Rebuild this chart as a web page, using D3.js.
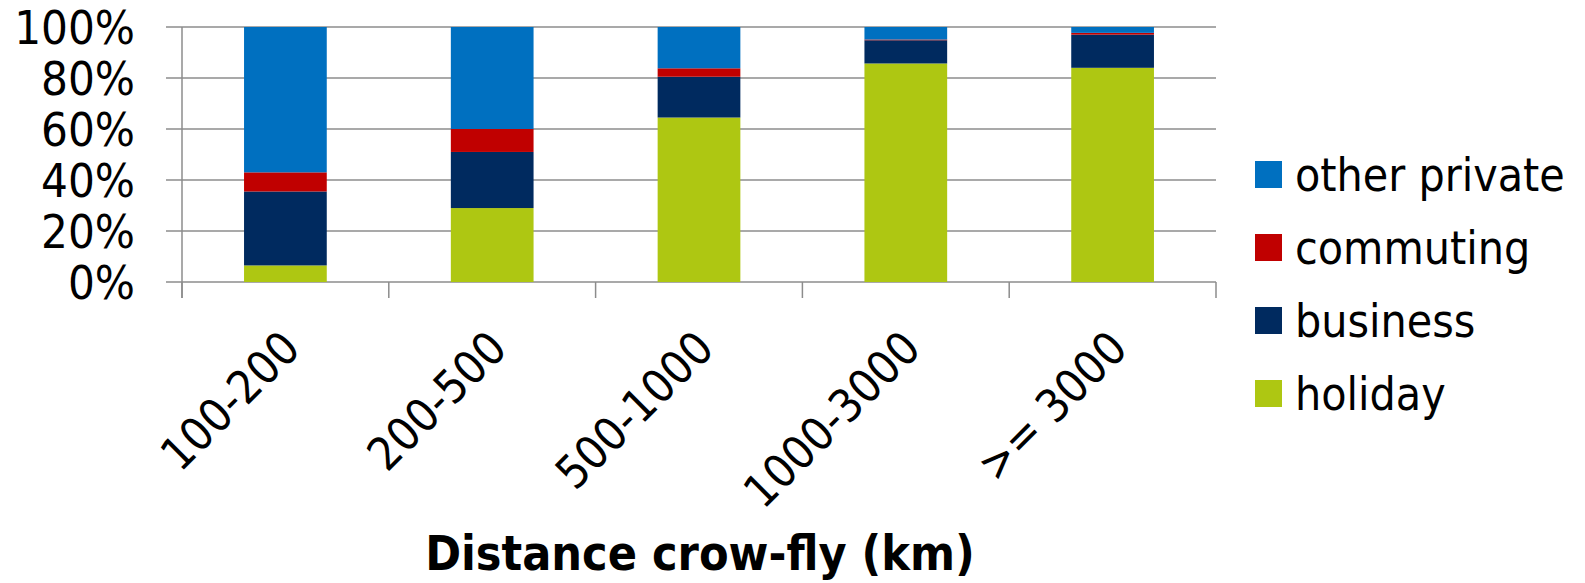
<!DOCTYPE html>
<html>
<head>
<meta charset="utf-8">
<script src="https://cdn.jsdelivr.net/npm/d3@7"></script>
<style>
  html, body { margin: 0; padding: 0; background: #fff; }
  svg { display: block; }
  text { font-family: "DejaVu Sans Condensed", "DejaVu Sans", Verdana, sans-serif; font-stretch: condensed; fill: #000; }
</style>
</head>
<body>
<svg id="chart" width="1585" height="583"></svg>
<script>
// Trip purpose share by crow-fly distance band (percent)
const categories = ["100-200", "200-500", "500-1000", "1000-3000", ">= 3000"];
const holiday    = [6.5, 29.0, 64.5, 85.7, 84.0];
const business   = [29.0, 22.0, 16.0, 9.1, 13.0];
const commuting  = [7.5, 9.0, 3.3, 0.3, 0.7];
const otherPrivate = [57.0, 40.0, 16.2, 4.9, 2.3];
const yTicks = [0, 20, 40, 60, 80, 100];

const seriesNames = ["holiday", "business", "commuting", "other private"];
const seriesValues = [holiday, business, commuting, otherPrivate];
const colors = ["#AEC712", "#002A5F", "#C00000", "#0070C0"];

const svg = d3.select("#chart");
const plot = { left: 182, right: 1216, top: 27, bottom: 282 };

const x = d3.scaleBand()
  .domain(categories)
  .range([plot.left, plot.right])
  .paddingInner(0.6)
  .paddingOuter(0.3);

const y = d3.scaleLinear().domain([0, 100]).range([plot.bottom, plot.top]);

const rows = categories.map((c, i) => {
  const r = { cat: c };
  seriesNames.forEach((s, j) => { r[s] = seriesValues[j][i]; });
  return r;
});
const stacked = d3.stack().keys(seriesNames)(rows);

const gridColor = "#8c8c8c";

// horizontal gridlines, extending left as tick marks
svg.append("g")
  .selectAll("line")
  .data(yTicks)
  .join("line")
  .attr("x1", plot.left - 16)
  .attr("x2", plot.right)
  .attr("y1", d => y(d))
  .attr("y2", d => y(d))
  .attr("stroke", gridColor)
  .attr("stroke-width", 1.5);

// bars
svg.append("g")
  .selectAll("g")
  .data(stacked)
  .join("g")
  .attr("fill", (d, i) => colors[i])
  .selectAll("rect")
  .data(d => d)
  .join("rect")
  .attr("x", d => x(d.data.cat))
  .attr("width", x.bandwidth())
  .attr("y", d => y(d[1]))
  .attr("height", d => y(d[0]) - y(d[1]));

// y axis line
svg.append("line")
  .attr("x1", plot.left).attr("x2", plot.left)
  .attr("y1", plot.top).attr("y2", plot.bottom + 16)
  .attr("stroke", gridColor).attr("stroke-width", 1.5);

// category divider ticks
const step = x.step();
svg.append("g")
  .selectAll("line")
  .data(d3.range(categories.length + 1))
  .join("line")
  .attr("x1", k => plot.left + k * step)
  .attr("x2", k => plot.left + k * step)
  .attr("y1", plot.bottom)
  .attr("y2", plot.bottom + 16)
  .attr("stroke", gridColor)
  .attr("stroke-width", 1.5);

// y tick labels
svg.append("g")
  .selectAll("text")
  .data(yTicks)
  .join("text")
  .attr("x", 135)
  .attr("y", d => y(d))
  .attr("dy", "0.36em")
  .attr("text-anchor", "end")
  .style("font-size", "47px")
  .text(d => d + "%");

// rotated category labels
svg.append("g")
  .selectAll("text")
  .data(categories)
  .join("text")
  .attr("text-anchor", "end")
  .attr("transform", d => {
    const cx = x(d) + x.bandwidth() / 2;
    return `translate(${cx + 17},${plot.bottom + 69}) rotate(-45)`;
  })
  .style("font-size", "46px")
  .text(d => d);

// axis title
svg.append("text")
  .attr("x", 700)
  .attr("y", 570)
  .attr("text-anchor", "middle")
  .style("font-size", "48px")
  .style("font-weight", "bold")
  .text("Distance crow-fly (km)");

// legend, top entry is the top of the stack
const legendItems = seriesNames.map((s, i) => ({ name: s, color: colors[i] })).reverse();
const lg = svg.append("g")
  .selectAll("g")
  .data(legendItems)
  .join("g")
  .attr("transform", (d, i) => `translate(1255,${161 + i * 73})`);
lg.append("rect")
  .attr("width", 27).attr("height", 27)
  .attr("fill", d => d.color);
lg.append("text")
  .attr("x", 40)
  .attr("y", 13.5)
  .attr("dy", "0.36em")
  .style("font-size", "46px")
  .text(d => d.name);
</script>
</body>
</html>
